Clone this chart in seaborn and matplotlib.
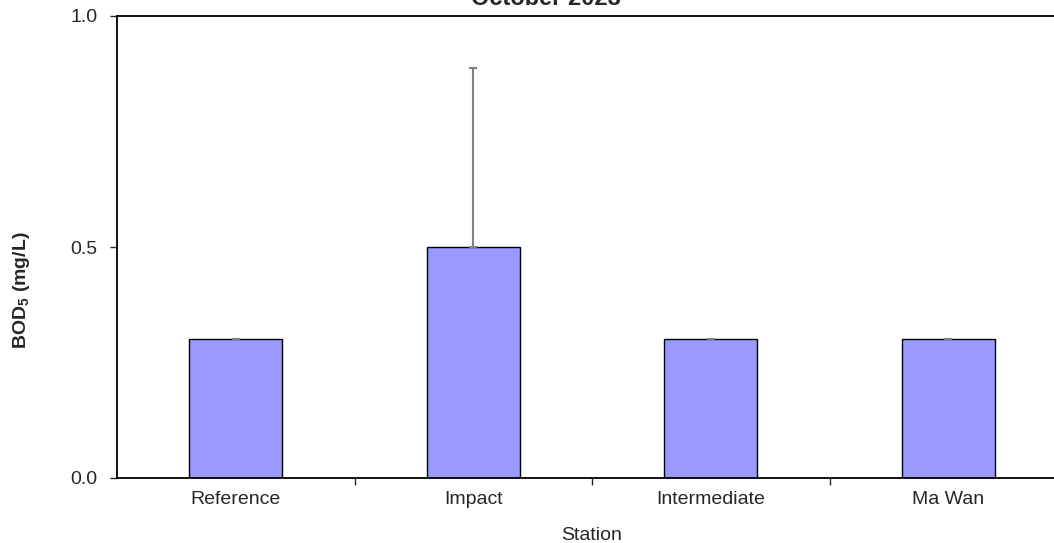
import numpy as np
import pandas as pd
import matplotlib
matplotlib.use("Agg")
import matplotlib.pyplot as plt
import seaborn as sns

# данные с графика
stations = ["Reference", "Impact", "Intermediate", "Ma Wan"]
bod5 = [0.3, 0.5, 0.3, 0.3]
bod5_err = [0.0, 0.387, 0.0, 0.0]
title_text = "October 2023"

df = pd.DataFrame({"Station": stations, "BOD5": bod5})

sns.set_style("white")
plt.rcParams["font.family"] = ["Liberation Sans", "DejaVu Sans"]

fig = plt.figure(figsize=(10.54, 5.43), dpi=100)
ax = fig.add_axes([117 / 1054, 1 - 478 / 543, (1067 - 117) / 1054, (478 - 16) / 543])

sns.barplot(data=df, x="Station", y="BOD5", color="#9999FF", edgecolor="black",
            linewidth=1, width=0.39, saturation=1, errorbar=None, ax=ax)
ax.errorbar(np.arange(len(stations)), bod5, yerr=[np.zeros(len(stations)), bod5_err],
            fmt="none", ecolor="#808080", elinewidth=1.5, capsize=3, capthick=1.5, zorder=3)

ax.set_xlim(-0.5, len(stations) - 0.5)
ax.set_ylim(0, 1.0)
ax.set_yticks([0, 0.5, 1.0])
ax.set_yticklabels(["0.0", "0.5", "1.0"])
ax.set_xticks(np.arange(len(stations)))
ax.set_xticklabels(stations)
ax.set_xticks(np.arange(len(stations) - 1) + 0.5, minor=True)
ax.tick_params(axis="x", which="major", length=0, labelsize=14, pad=9)
ax.tick_params(axis="x", which="minor", length=5, width=1, direction="out", bottom=True)
ax.tick_params(axis="y", length=5, width=1, direction="out", left=True, labelsize=14, pad=9)

for s in ["left", "bottom", "top"]:
    ax.spines[s].set_color("black")
    ax.spines[s].set_linewidth(1.3)
ax.spines["right"].set_visible(False)

ax.set_xlabel("Station", fontsize=14)
ax.xaxis.set_label_coords((592 - 117) / 950, -(535 - 478) / 462)
ax.xaxis.label.set_va("center")
ax.set_ylabel("BOD$_\\mathregular{5}$ (mg/L)", fontsize=14, fontweight="bold")
ax.yaxis.set_label_coords((22 - 117) / 950, (478 - 290) / 462)
ax.yaxis.label.set_va("center")

# заголовок частично обрезан сверху, как в оригинале
fig.text(546 / 1054, 1 - 5 / 543, title_text, fontsize=17, fontweight="bold",
         ha="center", va="baseline")

plt.savefig("out.png", dpi=100)
plt.close()
